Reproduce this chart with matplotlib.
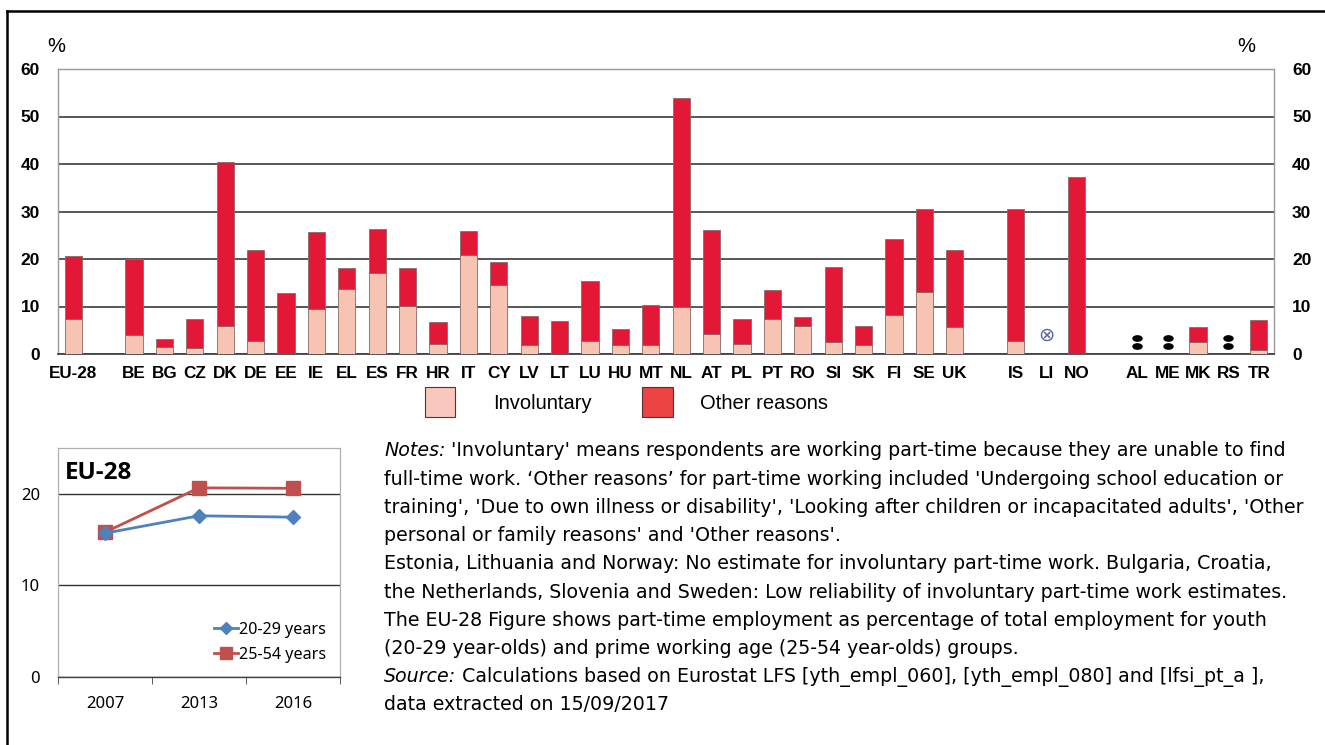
import numpy as np
import matplotlib
matplotlib.use("Agg")
import matplotlib.pyplot as plt
from matplotlib.patches import Rectangle
from matplotlib.lines import Line2D
from matplotlib.path import Path
from matplotlib.markers import MarkerStyle
from matplotlib.transforms import Affine2D
from matplotlib.text import Annotation

# ---------------- data ----------------
categories = ["EU-28", "", "BE", "BG", "CZ", "DK", "DE", "EE", "IE", "EL", "ES", "FR", "HR",
              "IT", "CY", "LV", "LT", "LU", "HU", "MT", "NL", "AT", "PL", "PT", "RO", "SI",
              "SK", "FI", "SE", "UK", "", "IS", "LI", "NO", "", "AL", "ME", "MK", "RS", "TR"]
nan = np.nan
involuntary = [7.4, nan, 3.9, 1.5, 1.3, 6.0, 2.7, 0.0, 9.5, 13.6, 17.1, 10.2, 2.1,
               20.8, 14.5, 1.8, 0.0, 2.8, 1.8, 1.8, 10.0, 4.3, 2.2, 7.4, 5.8, 2.6,
               2.0, 8.3, 13.0, 5.6, nan, 2.8, nan, 0.0, nan, nan, nan, 2.5, nan, 0.9]
other_reasons = [13.2, nan, 16.0, 1.7, 6.0, 34.5, 19.3, 12.9, 16.2, 4.5, 9.3, 7.9, 4.6,
                 5.1, 4.8, 6.3, 6.9, 12.5, 3.4, 8.5, 43.8, 21.7, 5.1, 6.0, 1.9, 15.7,
                 4.0, 16.0, 17.6, 16.2, nan, 27.7, nan, 37.2, nan, nan, nan, 3.2, nan, 6.3]
confidential = ["LI"]               # shown with a circled cross
not_available = ["AL", "ME", "RS"]  # shown with ':'

years = ["2007", "2013", "2016"]
youth_20_29 = [15.7, 17.6, 17.45]
prime_25_54 = [15.8, 20.65, 20.6]

notes_lines = [
    ("Notes:", " 'Involuntary' means respondents are working part-time because they are unable to find"),
    ("", "full-time work. \u2018Other reasons\u2019 for part-time working included 'Undergoing school education or"),
    ("", "training', 'Due to own illness or disability', 'Looking after children or incapacitated adults', 'Other"),
    ("", "personal or family reasons' and 'Other reasons'."),
    ("", "Estonia, Lithuania and Norway: No estimate for involuntary part-time work. Bulgaria, Croatia,"),
    ("", "the Netherlands, Slovenia and Sweden: Low reliability of involuntary part-time work estimates."),
    ("", "The EU-28 Figure shows part-time employment as percentage of total employment for youth"),
    ("", "(20-29 year-olds) and prime working age (25-54 year-olds) groups."),
    ("Source:", " Calculations based on Eurostat LFS [yth_empl_060], [yth_empl_080] and [lfsi_pt_a ],"),
    ("", "data extracted on 15/09/2017"),
]

# ---------------- figure ----------------
W, H = 1325, 745
fig = plt.figure(figsize=(W / 100, H / 100), dpi=100)
fig.patch.set_facecolor("white")

def fx(px):
    return px / W

def fy(py):
    return 1 - py / H

# outer frame (left and top)
fig.add_artist(Line2D([fx(7), fx(7)], [fy(11), 0], color="black", lw=1.8, transform=fig.transFigure))
fig.add_artist(Line2D([fx(7), 1], [fy(11), fy(11)], color="black", lw=1.8, transform=fig.transFigure))

INV_COL = "#F7C3B3"
OTH_COL = "#E31837"
EDGE = "#8a6a6a"

# ---------------- main bar chart ----------------
ax = fig.add_axes([fx(58), fy(354), fx(1274) - fx(58), fy(69) - fy(354)])
x = np.arange(len(categories))
inv = np.array(involuntary, dtype=float)
oth = np.array(other_reasons, dtype=float)
valid = ~np.isnan(inv)
bw = 0.56
ax.bar(x[valid], inv[valid], width=bw, color=INV_COL, edgecolor=EDGE, linewidth=0.6, zorder=3)
ax.bar(x[valid], oth[valid], bottom=inv[valid], width=bw, color=OTH_COL, edgecolor=EDGE,
       linewidth=0.6, zorder=3)

# special flags
ell = Path.unit_circle().transformed(Affine2D().scale(1.7, 1.0))
for c in not_available:
    i = categories.index(c)
    ax.plot([i, i], [1.6, 3.3], linestyle="none", marker=MarkerStyle(ell), markersize=6.5,
            color="black", zorder=4)
for c in confidential:
    i = categories.index(c)
    ax.text(i, 4.0, "\u2297", ha="center", va="center", fontsize=14, color="#5865a0",
            family="DejaVu Sans", zorder=4)

ax.set_xlim(-0.5, len(categories) - 0.5)
ax.set_ylim(0, 60)
ax.set_yticks(np.arange(0, 61, 10))
ax.set_xticks(x)
ax.set_xticklabels(categories)
ax.set_axisbelow(True)
ax.yaxis.grid(True, color="#4a4a4a", linewidth=1.3)
ax.tick_params(axis="x", length=0, pad=8.5)
ax.tick_params(axis="y", length=0, pad=13, labelright=True)
for lab in ax.get_xticklabels():
    lab.set_fontfamily("Liberation Sans")
    lab.set_fontweight("bold")
    lab.set_fontsize(12.3)
for tk in ax.yaxis.get_major_ticks():
    for lab in (tk.label1, tk.label2):
        lab.set_fontfamily("Liberation Sans")
        lab.set_fontweight("bold")
        lab.set_fontsize(12.5)
for s in ["left", "right", "top"]:
    ax.spines[s].set_color("#9a9a9a")
    ax.spines[s].set_linewidth(1.0)
ax.spines["bottom"].set_color("#444444")
ax.spines["bottom"].set_linewidth(1.3)

fig.text(fx(56), fy(47), "%", ha="center", va="center", fontsize=14.5, family="Liberation Sans")
fig.text(fx(1246), fy(47), "%", ha="center", va="center", fontsize=14.5, family="Liberation Sans")

# legend (manual)
fig.add_artist(Rectangle((fx(425), fy(417)), fx(30), fy(387) - fy(417), facecolor="#F9C7BD",
                         edgecolor="#5a3030", linewidth=0.8, transform=fig.transFigure))
fig.text(fx(493), fy(403), "Involuntary", ha="left", va="center", fontsize=14.5,
         family="Liberation Sans")
fig.add_artist(Rectangle((fx(642), fy(417)), fx(31), fy(387) - fy(417), facecolor="#EC4343",
                         edgecolor="#5a3030", linewidth=0.8, transform=fig.transFigure))
fig.text(fx(700), fy(403), "Other reasons", ha="left", va="center", fontsize=14.5,
         family="Liberation Sans")

# ---------------- inset line chart ----------------
ax2 = fig.add_axes([fx(58), fy(677), fx(340) - fx(58), fy(448) - fy(677)])
xi = np.arange(len(years))
ax2.plot(xi, youth_20_29, color="#4F81BD", lw=2, marker="D", markersize=7, label="20-29 years",
         zorder=4)
ax2.plot(xi, prime_25_54, color="#C0504D", lw=2, marker="s", markersize=10, label="25-54 years",
         zorder=3)
ax2.set_xlim(-0.5, 2.5)
ax2.set_ylim(0, 25)
ax2.set_yticks([0, 10, 20])
ax2.set_xticks(xi)
ax2.set_xticklabels(years)
ax2.set_xticks([-0.5, 0.5, 1.5, 2.5], minor=True)
ax2.tick_params(axis="x", which="major", length=0, pad=14)
ax2.tick_params(axis="x", which="minor", length=5, direction="out", color="#444444")
ax2.tick_params(axis="y", length=0, pad=13)
for lab in ax2.get_xticklabels() + ax2.get_yticklabels():
    lab.set_fontfamily("Noto Sans")
    lab.set_fontsize(12)
ax2.set_axisbelow(True)
ax2.yaxis.grid(True, color="#333333", linewidth=1.0)
for s in ["left", "right", "top"]:
    ax2.spines[s].set_color("#b0b0b0")
    ax2.spines[s].set_linewidth(0.9)
ax2.spines["bottom"].set_color("#444444")
ax2.spines["bottom"].set_linewidth(1.0)
ax2.text(0.025, 0.945, "EU-28", transform=ax2.transAxes, ha="left", va="top", fontsize=17.5,
         fontweight="bold", family="Open Sans")
leg = ax2.legend(loc="lower right", frameon=False, handlelength=1.5, handletextpad=0.1,
                 prop={"family": "Noto Sans", "size": 11.6}, bbox_to_anchor=(0.975, 0.035),
                 borderaxespad=0.0, labelspacing=0.55, markerscale=0.9)

# ---------------- notes ----------------
y0, dy = 451, 28.2
x0 = 384
FS = 13.7
for k, (lead, rest) in enumerate(notes_lines):
    yy = fy(y0 + k * dy)
    if lead:
        t = fig.text(fx(x0), yy, lead, ha="left", va="center", fontsize=FS,
                     family="DejaVu Sans", style="italic")
        fig.add_artist(Annotation(rest, xy=(1, 0.5), xycoords=t, ha="left", va="center",
                                  fontsize=FS, family="DejaVu Sans"))
    else:
        fig.text(fx(x0), yy, rest, ha="left", va="center", fontsize=FS, family="DejaVu Sans")

fig.savefig("out.png", dpi=100, facecolor="white")
